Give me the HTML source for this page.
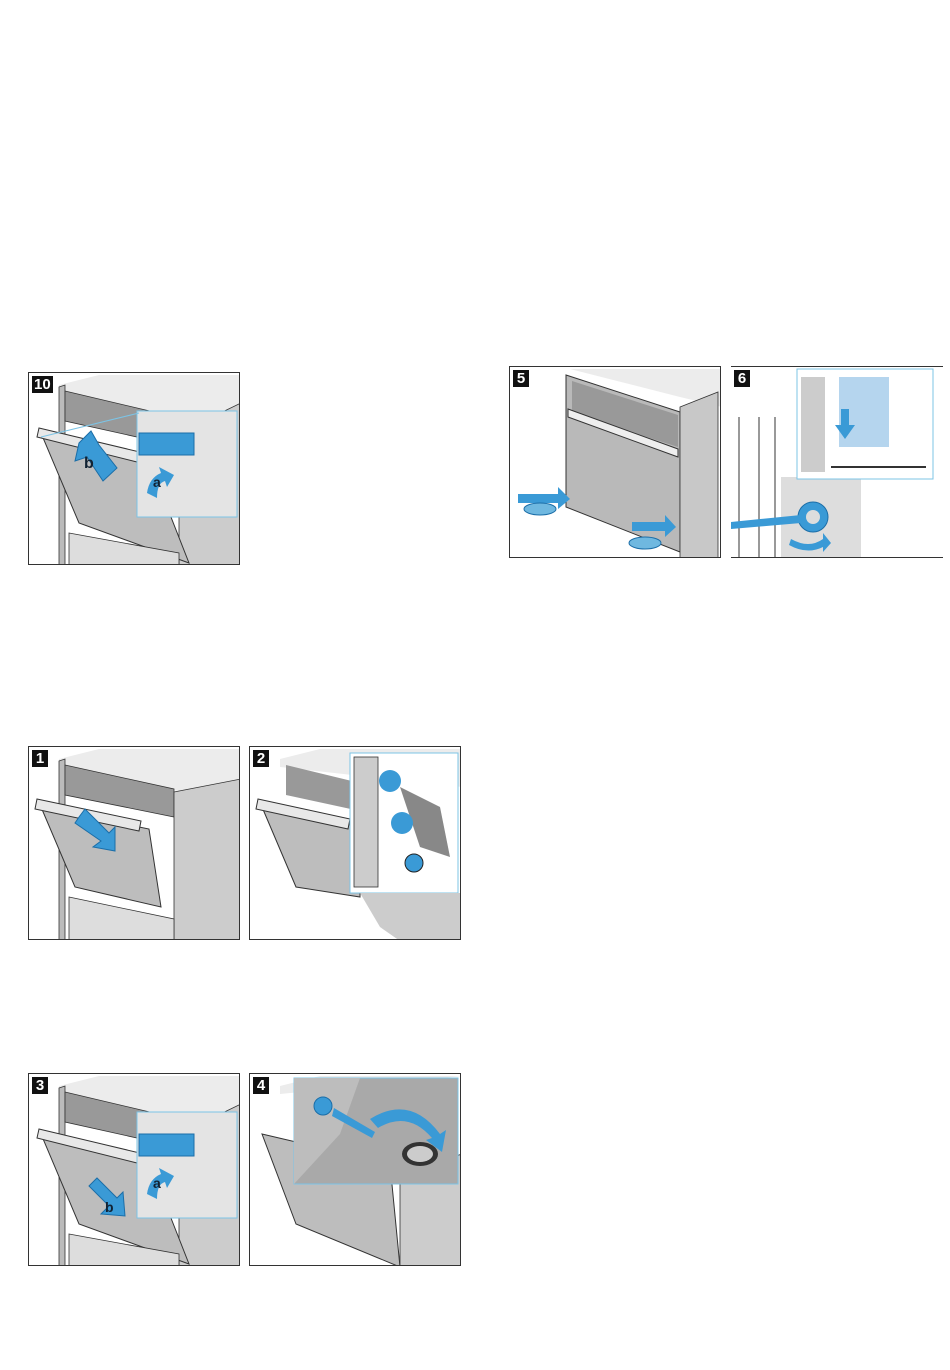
<!DOCTYPE html>
<html><head><meta charset="utf-8"><style>
body{margin:0;width:950px;height:1370px;background:#fff;position:relative;font-family:"Liberation Sans",sans-serif;overflow:hidden}
.p{position:absolute;box-sizing:border-box;border:1px solid #333;background:#fff;overflow:hidden}
.p svg{position:absolute;left:0;top:0}
.n{position:absolute;left:3px;top:3px;background:#111;color:#fff;font-weight:bold;font-size:15px;line-height:17px;padding:0 2px;min-width:12px;text-align:center;z-index:2}
</style></head><body>

<!-- reusable oven drawing as symbol-free inline repeats -->
<div class="p" style="left:28px;top:372px;width:212px;height:193px">
<div class="n">10</div>
<svg width="212" height="193" viewBox="0 0 212 193">
<polygon points="30,12 70,2 212,2 212,40 180,60 30,30" fill="#ececec"/>
<polygon points="30,14 36,12 36,193 30,193" fill="#bbb" stroke="#333" stroke-width="0.8"/>
<polygon points="36,18 180,52 180,80 36,48" fill="#999" stroke="#333" stroke-width="0.8"/>
<polygon points="150,60 212,30 212,193 150,193" fill="#ccc" stroke="#333" stroke-width="0.8"/>
<polygon points="12,60 120,88 160,190 50,150" fill="#bdbdbd" stroke="#333"/>
<polygon points="10,55 115,80 112,90 8,64" fill="#e8e8e8" stroke="#333"/>
<polygon points="40,160 150,180 150,193 40,193" fill="#ddd" stroke="#333" stroke-width="0.8"/>
<polygon points="50,70 62,58 70,72 88,95 74,108 58,84 46,88" fill="#3a9ad6" stroke="#1b6ea8"/>
<text x="55" y="95" font-size="16" font-weight="bold" fill="#123">b</text>
<rect x="108" y="38" width="100" height="106" fill="#e4e4e4" stroke="#7cc4e6"/>
<rect x="110" y="60" width="55" height="22" fill="#3a9ad6" stroke="#1b6ea8"/>
<path d="M118,120 Q120,105 132,100 L130,94 L145,102 L138,114 L136,108 Q128,110 128,125 Z" fill="#3a9ad6"/>
<text x="124" y="114" font-size="14" font-weight="bold" fill="#123">a</text>
<line x1="12" y1="64" x2="110" y2="40" stroke="#7cc4e6"/>
</svg></div>

<div class="p" style="left:509px;top:366px;width:212px;height:192px">
<div class="n">5</div>
<svg width="212" height="192" viewBox="0 0 212 192">
<polygon points="60,2 212,2 212,40 170,30" fill="#ececec"/>
<polygon points="56,8 170,45 170,185 56,140" fill="#b9b9b9" stroke="#333"/>
<polygon points="62,14 168,48 168,80 62,46" fill="#999"/>
<polygon points="170,40 208,25 208,192 170,192" fill="#c8c8c8" stroke="#333" stroke-width="0.8"/>
<polygon points="58,42 168,82 168,90 58,50" fill="#eee" stroke="#333"/>
<polygon points="8,127 48,127 48,120 60,132 48,142 48,136 8,136" fill="#3a9ad6"/>
<ellipse cx="30" cy="142" rx="16" ry="6" fill="#6fb8e0" stroke="#1b6ea8"/>
<polygon points="122,155 155,155 155,148 166,160 155,170 155,164 122,164" fill="#3a9ad6"/>
<ellipse cx="135" cy="176" rx="16" ry="6" fill="#6fb8e0" stroke="#1b6ea8"/>
</svg></div>

<div style="position:absolute;left:731px;top:366px;width:212px;height:192px;border-top:1px solid #333;border-bottom:1px solid #333;box-sizing:border-box;overflow:hidden">
<div class="n" style="border:none">6</div>
<svg width="212" height="192" viewBox="0 0 212 192" style="position:absolute;left:0;top:0">
<line x1="8" y1="50" x2="8" y2="192" stroke="#333"/><line x1="28" y1="50" x2="28" y2="192" stroke="#333"/><line x1="44" y1="50" x2="44" y2="192" stroke="#333"/>
<rect x="50" y="110" width="80" height="80" fill="#ddd"/>
<rect x="66" y="2" width="136" height="110" fill="#fff" stroke="#7cc4e6"/>
<rect x="70" y="10" width="24" height="95" fill="#ccc"/>
<rect x="108" y="10" width="50" height="70" fill="#b5d5ee"/>
<polygon points="110,42 118,42 118,58 124,58 114,72 104,58 110,58" fill="#3a9ad6"/>
<line x1="100" y1="100" x2="195" y2="100" stroke="#333" stroke-width="2"/>
<circle cx="82" cy="150" r="15" fill="#3a9ad6" stroke="#1b6ea8"/><circle cx="82" cy="150" r="7" fill="#ddd"/>
<polygon points="0,155 70,148 70,156 0,162" fill="#3a9ad6"/>
<path d="M60,172 Q78,182 92,172 L92,166 L100,176 L92,185 L92,180 Q76,188 58,178 Z" fill="#3a9ad6"/>
</svg></div>

<div class="p" style="left:28px;top:746px;width:212px;height:194px">
<div class="n">1</div>
<svg width="212" height="194" viewBox="0 0 212 194">
<polygon points="30,12 70,2 212,2 212,40 180,50 30,20" fill="#ececec"/>
<polygon points="30,14 36,12 36,194 30,194" fill="#bbb" stroke="#333" stroke-width="0.8"/>
<polygon points="36,18 145,42 145,70 36,48" fill="#999" stroke="#333" stroke-width="0.8"/>
<polygon points="145,45 212,32 212,194 145,194" fill="#ccc" stroke="#333" stroke-width="0.8"/>
<polygon points="12,60 120,82 132,160 46,140" fill="#bdbdbd" stroke="#333"/>
<polygon points="8,52 112,74 110,84 6,62" fill="#e8e8e8" stroke="#333"/>
<polygon points="40,150 145,172 145,194 40,194" fill="#ddd" stroke="#333" stroke-width="0.8"/>
<polygon points="50,70 56,62 80,86 86,80 86,104 64,100 72,94 46,76" fill="#3a9ad6" stroke="#1b6ea8"/>
</svg></div>

<div class="p" style="left:249px;top:746px;width:212px;height:194px">
<div class="n">2</div>
<svg width="212" height="194" viewBox="0 0 212 194">
<polygon points="30,12 70,2 212,2 212,40 30,20" fill="#ececec"/>
<polygon points="36,18 110,36 110,64 36,48" fill="#999"/>
<polygon points="12,60 110,80 110,150 46,140" fill="#bdbdbd" stroke="#333"/>
<polygon points="8,52 100,72 98,82 6,62" fill="#e8e8e8" stroke="#333"/>
<rect x="100" y="6" width="108" height="140" fill="#fff" stroke="#7cc4e6"/>
<rect x="104" y="10" width="24" height="130" fill="#ccc" stroke="#333" stroke-width="0.8"/>
<polygon points="150,40 190,60 200,110 170,100" fill="#888"/>
<circle cx="140" cy="34" r="11" fill="#3a9ad6"/><circle cx="152" cy="76" r="11" fill="#3a9ad6"/><circle cx="164" cy="116" r="9" fill="#3a9ad6" stroke="#222"/>
<polygon points="110,146 130,180 150,194 212,194 212,146" fill="#ccc"/>
</svg></div>

<div class="p" style="left:28px;top:1073px;width:212px;height:193px">
<div class="n">3</div>
<svg width="212" height="193" viewBox="0 0 212 193">
<polygon points="30,12 70,2 212,2 212,40 180,60 30,30" fill="#ececec"/>
<polygon points="30,14 36,12 36,193 30,193" fill="#bbb" stroke="#333" stroke-width="0.8"/>
<polygon points="36,18 180,52 180,80 36,48" fill="#999" stroke="#333" stroke-width="0.8"/>
<polygon points="150,60 212,30 212,193 150,193" fill="#ccc" stroke="#333" stroke-width="0.8"/>
<polygon points="12,60 120,88 160,190 50,150" fill="#bdbdbd" stroke="#333"/>
<polygon points="10,55 115,80 112,90 8,64" fill="#e8e8e8" stroke="#333"/>
<polygon points="40,160 150,180 150,193 40,193" fill="#ddd" stroke="#333" stroke-width="0.8"/>
<polygon points="60,112 68,104 88,124 94,118 96,142 72,140 80,132" fill="#3a9ad6" stroke="#1b6ea8"/>
<text x="76" y="138" font-size="14" font-weight="bold" fill="#123">b</text>
<rect x="108" y="38" width="100" height="106" fill="#e4e4e4" stroke="#7cc4e6"/>
<rect x="110" y="60" width="55" height="22" fill="#3a9ad6" stroke="#1b6ea8"/>
<path d="M118,120 Q120,105 132,100 L130,94 L145,102 L138,114 L136,108 Q128,110 128,125 Z" fill="#3a9ad6"/>
<text x="124" y="114" font-size="14" font-weight="bold" fill="#123">a</text>
</svg></div>

<div class="p" style="left:249px;top:1073px;width:212px;height:193px">
<div class="n">4</div>
<svg width="212" height="193" viewBox="0 0 212 193">
<polygon points="30,12 70,2 212,2 30,20" fill="#ececec"/>
<polygon points="12,60 140,90 150,193 46,150" fill="#bdbdbd" stroke="#333"/>
<polygon points="150,100 212,80 212,193 150,193" fill="#ccc" stroke="#333" stroke-width="0.8"/>
<rect x="44" y="4" width="164" height="106" fill="#a9a9a9" stroke="#7cc4e6"/>
<polygon points="44,4 110,4 90,60 44,110" fill="#bdbdbd"/>
<circle cx="73" cy="32" r="9" fill="#3a9ad6" stroke="#1b6ea8"/>
<polygon points="84,34 125,58 122,64 82,42" fill="#3a9ad6"/>
<ellipse cx="170" cy="80" rx="18" ry="12" fill="#333"/><ellipse cx="170" cy="80" rx="13" ry="8" fill="#ccc"/>
<path d="M120,45 Q160,20 190,60 L196,56 L192,78 L176,66 L182,64 Q158,36 128,54 Z" fill="#3a9ad6"/>
</svg></div>

</body></html>
